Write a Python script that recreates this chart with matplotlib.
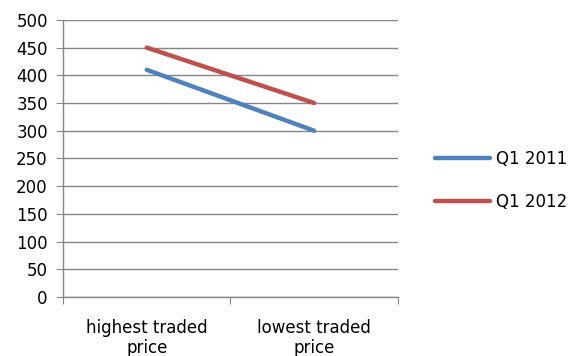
import matplotlib
matplotlib.use("Agg")
import matplotlib.pyplot as plt

categories = ["highest traded\nprice", "lowest traded\nprice"]
q1_2011 = [410, 300]
q1_2012 = [450, 350]
y_ticks = list(range(0, 501, 50))

plt.rcParams['font.family'] = ['DejaVu Sans']

fig = plt.figure(figsize=(5.79, 3.56), dpi=100)
ax = fig.add_axes([0.109, 0.166, 0.578, 0.778])

x = [0.5, 1.5]
ax.plot(x, q1_2011, color='#4F81BD', lw=3.2, solid_capstyle='round', label='Q1 2011')
ax.plot(x, q1_2012, color='#C0504D', lw=3.2, solid_capstyle='round', label='Q1 2012')

ax.set_xlim(0, 2)
ax.set_ylim(0, 500)
ax.set_yticks(y_ticks)
ax.set_yticklabels([str(v) for v in y_ticks], fontsize=12)
ax.set_xticks([0, 1, 2])
ax.set_xticklabels([])
ax.set_xticks(x, minor=True)
ax.set_xticklabels(categories, minor=True, fontsize=12, linespacing=1.15)
ax.tick_params(axis='x', which='minor', length=0, pad=16)
ax.tick_params(axis='x', which='major', length=5, color='#868686', direction='out')
ax.tick_params(axis='y', length=5, color='#868686', pad=6)

ax.grid(axis='y', color='#868686', lw=1)
ax.set_axisbelow(True)
for s in ['top', 'right']:
    ax.spines[s].set_visible(False)
for s in ['left', 'bottom']:
    ax.spines[s].set_color('#868686')
    ax.spines[s].set_linewidth(1)

ax.legend(loc='center left', bbox_to_anchor=(1.11, 0.42), frameon=False,
          fontsize=12, handlelength=3.3, labelspacing=1.5, handletextpad=0.4,
          borderpad=0, borderaxespad=0)

fig.savefig("out.png", dpi=100)
